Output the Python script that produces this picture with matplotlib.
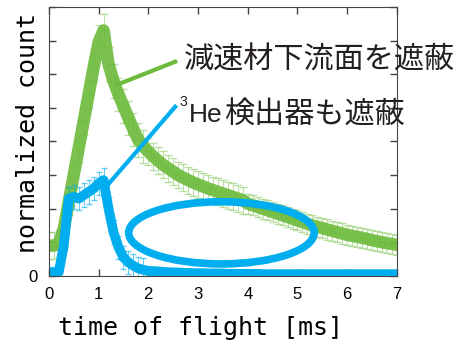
import numpy as np
import matplotlib.pyplot as plt
from matplotlib.patches import Ellipse

# time of flight [ms], every 0.1 ms
tof = np.round(np.arange(0, 71) * 0.1, 1)

# moderator downstream face shielded (green)
green = [0.90, 0.90, 0.95, 1.40, 2.20, 3.00, 3.80, 4.60, 5.40, 6.20,
         6.95, 7.30, 6.30, 5.80, 5.40, 5.05, 4.70, 4.35, 4.05, 3.85,
         3.70, 3.55, 3.42, 3.30, 3.20, 3.10, 3.00, 2.92, 2.85, 2.78,
         2.72, 2.66, 2.60, 2.55, 2.50, 2.45, 2.40, 2.35, 2.30, 2.25,
         2.15, 2.10, 2.05, 2.00, 1.95, 1.90, 1.85, 1.80, 1.75, 1.70,
         1.65, 1.60, 1.55, 1.50, 1.46, 1.42, 1.38, 1.34, 1.30, 1.26,
         1.22, 1.19, 1.16, 1.13, 1.10, 1.06, 1.03, 1.00, 0.97, 0.95,
         0.92]
green_err = [0.4] * 10 + [0.5] * 10 + [0.4] * 20 + [0.3] * 31

# 3He detector shielded as well (blue)
blue = [0.10, 0.10, 0.12, 0.90, 2.30, 2.35, 2.30, 2.40, 2.50, 2.60,
        2.75, 2.85, 2.00, 1.30, 0.85, 0.55, 0.40, 0.30, 0.22, 0.18,
        0.15, 0.14, 0.13, 0.12, 0.11, 0.10, 0.10, 0.09, 0.09, 0.08,
        0.08, 0.08, 0.07, 0.07, 0.07, 0.07, 0.06, 0.06, 0.06, 0.06,
        0.06, 0.06, 0.06, 0.05, 0.05, 0.05, 0.05, 0.05, 0.05, 0.05,
        0.05, 0.05, 0.05, 0.05, 0.05, 0.05, 0.05, 0.05, 0.05, 0.05,
        0.05, 0.05, 0.05, 0.05, 0.05, 0.05, 0.05, 0.05, 0.05, 0.05,
        0.05]
blue_err = [0.15] * 4 + [0.35] * 16 + [0.12] * 51

x_ticks = [0, 1, 2, 3, 4, 5, 6, 7]
label_green = "減速材下流面を遮蔽"
label_blue = "検出器も遮蔽"

c_green = "#6dbb3c"
c_blue = "#00aeef"
c_text = "#231f20"
jp = ["Noto Sans CJK JP", "DejaVu Sans"]

fig = plt.figure(figsize=(4.61, 3.47), dpi=100)
ax = fig.add_axes([0.106, 0.205, 0.755, 0.775])

ax.errorbar(tof, green, yerr=green_err, xerr=0.06, fmt="none",
            ecolor=c_green, elinewidth=0.8, capsize=3, alpha=0.45)
ax.plot(tof, green, color=c_green, lw=9, alpha=0.9)
ax.errorbar(tof, blue, yerr=blue_err, xerr=0.06, fmt="none",
            ecolor=c_blue, elinewidth=0.8, capsize=2.5, alpha=0.6)
ax.plot(tof, blue, color=c_blue, lw=7)

ax.add_patch(Ellipse((3.47, 1.28), 3.73, 1.85, fill=False,
                     edgecolor=c_blue, lw=5.5, zorder=5))

# pointer lines + captions
ax.plot([1.36, 2.54], [5.68, 6.37], color=c_green, lw=3, clip_on=False)
ax.plot([1.18, 2.54], [2.70, 5.03], color=c_blue, lw=3, clip_on=False)
ax.text(2.71, 6.43, label_green, family=jp, fontsize=21.7, va="center",
        ha="left", clip_on=False, color=c_text)
ax.text(2.63, 5.18, "3", family="Liberation Sans", fontsize=10,
        va="center", ha="left", clip_on=False, color=c_text)
ax.text(2.82, 4.79, "He", family="Liberation Sans", fontsize=19,
        va="center", ha="left", clip_on=False, color=c_text)
ax.text(3.53, 4.79, label_blue, family=jp, fontsize=21.7, va="center",
        ha="left", clip_on=False, color=c_text)

ax.set_xlim(0, 7)
ax.set_ylim(0, 8)
ax.set_xticks(x_ticks)
ax.set_xticklabels([str(v) for v in x_ticks])
ax.set_yticks(range(9))
ax.set_yticklabels(["0"] + [""] * 8)
ax.tick_params(direction="in", length=5, width=1, color="#444444",
               top=True, right=True, labelsize=12, pad=8)
for lab in ax.get_xticklabels() + ax.get_yticklabels():
    lab.set_family("Liberation Sans")
for s in ax.spines.values():
    s.set_color("#444444")

ax.set_xlabel("time of flight [ms]", family="DejaVu Sans Mono",
              fontsize=18)
ax.set_ylabel("normalized count", family="DejaVu Sans Mono",
              fontsize=18)
ax.xaxis.set_label_coords(0.437, -0.15)
ax.yaxis.set_label_coords(-0.025, 0.53)

fig.savefig("out.png", dpi=100)
